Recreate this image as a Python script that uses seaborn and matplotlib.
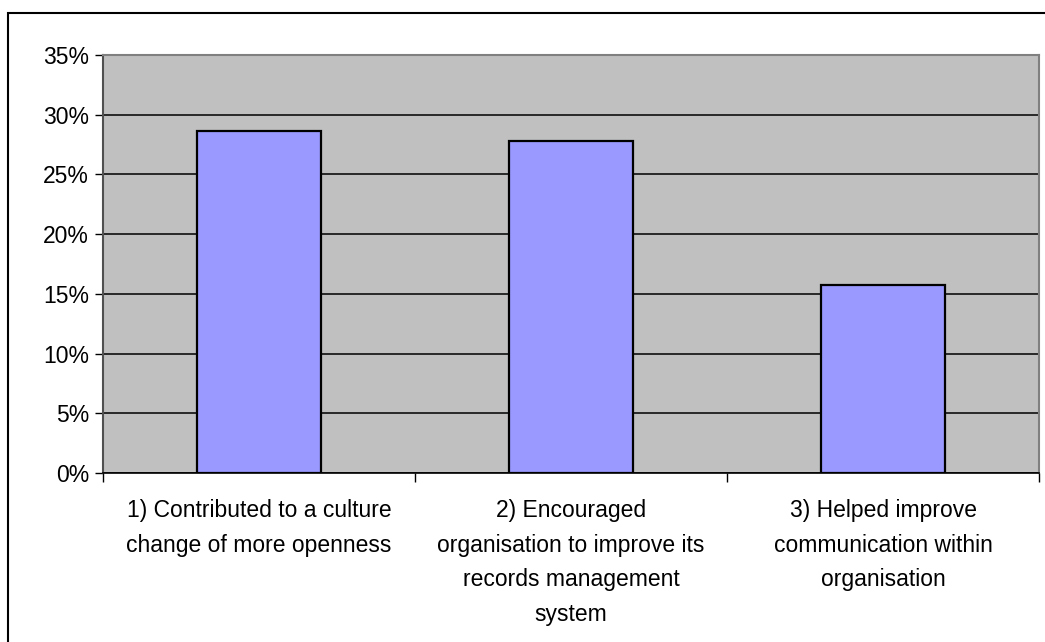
import matplotlib
matplotlib.use("Agg")
import matplotlib.pyplot as plt
import matplotlib.patches as mpatches
from matplotlib.ticker import FixedLocator, PercentFormatter
import seaborn as sns
import pandas as pd

categories = [
    "1) Contributed to a culture\nchange of more openness",
    "2) Encouraged\norganisation to improve its\nrecords management\nsystem",
    "3) Helped improve\ncommunication within\norganisation",
]
values = [28.6, 27.8, 15.7]
y_ticks = [0, 5, 10, 15, 20, 25, 30, 35]

df = pd.DataFrame({"category": categories, "value": values})

sns.set_theme(style="white")
plt.rcParams["font.family"] = ["Liberation Sans", "DejaVu Sans"]

W, H = 1045, 642
fig = plt.figure(figsize=(W / 100, H / 100), dpi=100)
fig.patch.set_facecolor("white")
ax = fig.add_axes([103 / W, 1 - 473 / H, (1039 - 103) / W, (473 - 55) / H])

sns.barplot(data=df, x="category", y="value", order=categories, color="#9999FF",
            width=0.4, edgecolor="black", linewidth=1.6, saturation=1, ax=ax, zorder=3)

ax.set_facecolor("#C0C0C0")
ax.set_xlim(-0.5, 2.5)
ax.set_ylim(0, 35)
ax.yaxis.set_major_locator(FixedLocator(y_ticks))
ax.yaxis.set_major_formatter(PercentFormatter(decimals=0))
ax.grid(axis="y", color="black", linewidth=1.1, zorder=1)
ax.grid(axis="x", visible=False)
ax.set_axisbelow(True)
ax.set_xlabel("")
ax.set_ylabel("")

ax.xaxis.set_minor_locator(FixedLocator([-0.5, 0.5, 1.5, 2.5]))
ax.tick_params(axis="x", which="minor", bottom=True, length=6.5, width=1, color="black")
ax.tick_params(axis="x", which="major", bottom=True, length=0, pad=19, labelsize=16.5)
ax.tick_params(axis="y", which="major", left=True, length=6, width=1, color="black",
               pad=4, labelsize=16.5)
for lab in ax.get_xticklabels():
    lab.set_linespacing(1.64)
    lab.set_color("black")
for lab in ax.get_yticklabels():
    lab.set_color("black")

for side in ["top", "right"]:
    ax.spines[side].set_visible(True)
    ax.spines[side].set_color("#808080")
    ax.spines[side].set_linewidth(1.5)
ax.spines["left"].set_color("#505050")
ax.spines["left"].set_linewidth(1.5)
ax.spines["bottom"].set_color("black")
ax.spines["bottom"].set_linewidth(1.2)

# outer chart frame (top/left visible, continues beyond the image)
frame = mpatches.Rectangle((8 / W, -0.2), 2.0, (H - 13) / H + 0.2,
                           transform=fig.transFigure, fill=False,
                           edgecolor="black", linewidth=1.5, clip_on=False)
fig.patches.append(frame)

fig.savefig("out.png", dpi=100, facecolor="white")
